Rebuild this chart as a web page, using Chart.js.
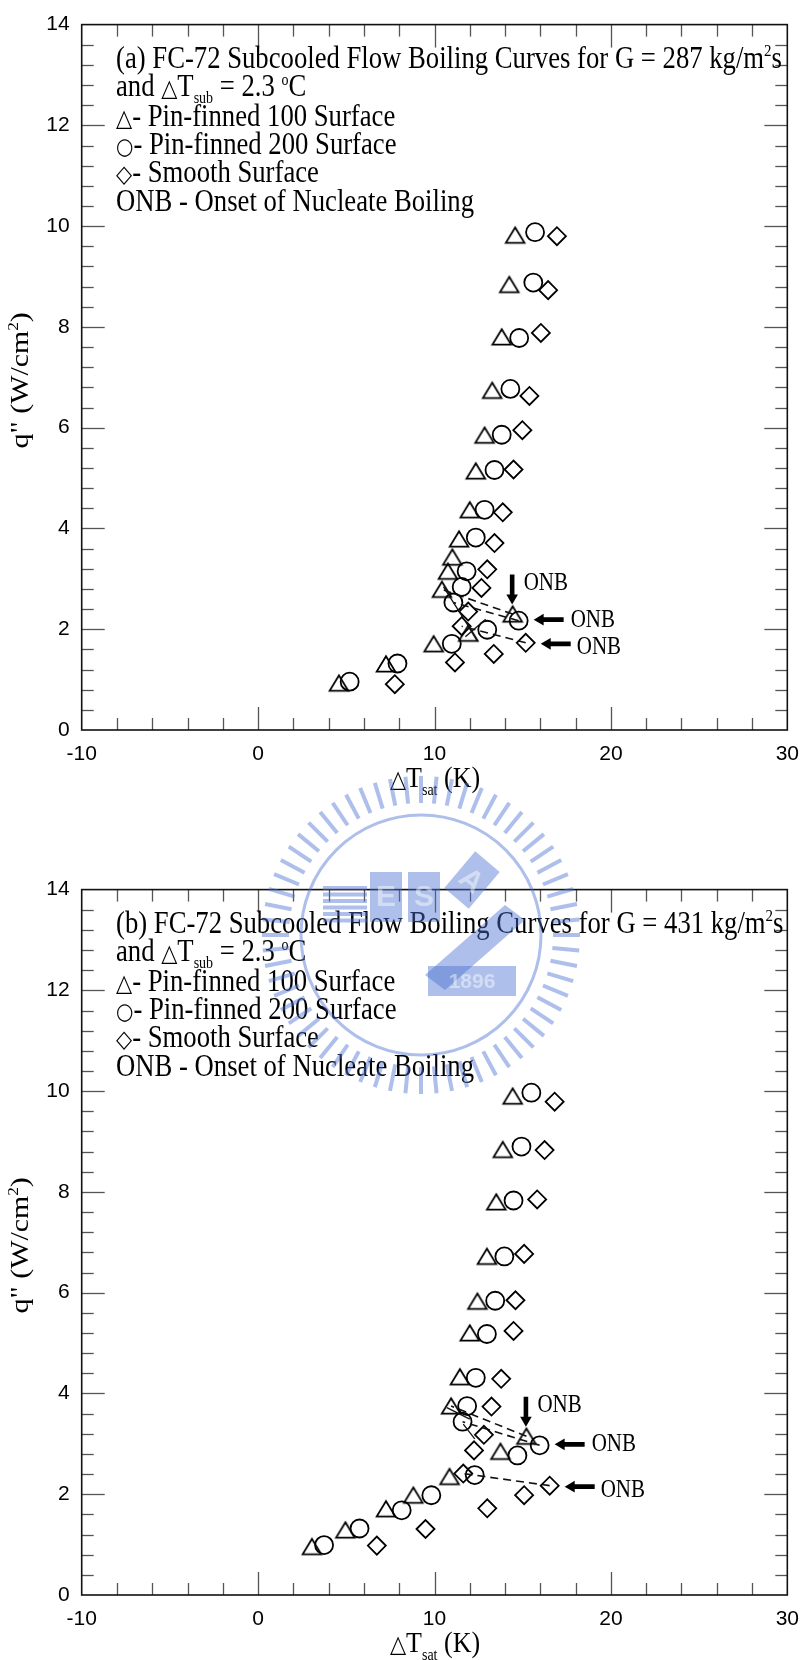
<!DOCTYPE html>
<html><head><meta charset="utf-8">
<script src="https://cdn.jsdelivr.net/npm/chart.js@4.4.0/dist/chart.umd.min.js"></script>
<style>
html,body{margin:0;padding:0;background:#fff;width:811px;height:1660px;overflow:hidden;}
canvas{position:absolute;left:0;}
#c1{top:0;} #c2{top:865px;} #wm{top:0;pointer-events:none;}
</style></head><body>
<canvas id="c1" width="811" height="865"></canvas>
<canvas id="c2" width="811" height="795"></canvas>
<canvas id="wm" width="811" height="1660"></canvas>
<script>
// ---------- tick labels ----------
const X_TICKS = [-10, 0, 10, 20, 30];
const Y_TICKS = [0, 2, 4, 6, 8, 10, 12, 14];

// ---------- (a) G = 287 kg/m2s ----------
const A_PIN100_X = [4.58, 7.25, 9.95, 11.91, 14.43, 10.42, 10.76, 11.01, 11.39, 12.00, 12.34, 12.84, 13.27, 13.81, 14.24, 14.57];
const A_PIN100_Y = [0.93, 1.31, 1.71, 1.92, 2.30, 2.79, 3.15, 3.43, 3.79, 4.37, 5.14, 5.85, 6.74, 7.80, 8.84, 9.82];
const A_PIN200_X = [5.19, 7.90, 10.98, 12.99, 14.77, 11.07, 11.54, 11.82, 12.34, 12.84, 13.40, 13.81, 14.30, 14.80, 15.60, 15.70];
const A_PIN200_Y = [0.96, 1.32, 1.71, 1.99, 2.17, 2.53, 2.84, 3.15, 3.82, 4.37, 5.16, 5.86, 6.77, 7.78, 8.88, 9.88];
const A_SMOOTH_X = [7.75, 11.16, 13.36, 15.17, 11.54, 11.91, 12.66, 12.99, 13.40, 13.87, 14.48, 14.98, 15.38, 16.03, 16.44, 16.94];
const A_SMOOTH_Y = [0.91, 1.34, 1.51, 1.73, 2.06, 2.35, 2.82, 3.19, 3.71, 4.32, 5.17, 5.95, 6.63, 7.88, 8.73, 9.80];
const A_ONB = [4, 4, 3];            // index of ONB point in pin100, pin200, smooth
const A_STROKES = [[10.51, 2.84, 12.47, 1.76], [11.75, 1.85, 12.90, 2.20]];

// ---------- (b) G = 431 kg/m2s ----------
const B_PIN100_X = [3.05, 4.95, 7.25, 8.80, 10.85, 13.74, 15.21, 10.94, 11.44, 12.00, 12.43, 12.97, 13.50, 13.87, 14.43];
const B_PIN100_Y = [0.96, 1.29, 1.71, 1.98, 2.35, 2.85, 3.15, 3.75, 4.33, 5.20, 5.83, 6.72, 7.80, 8.84, 9.90];
const B_PIN200_X = [3.74, 5.75, 8.14, 9.82, 12.28, 14.70, 15.96, 11.59, 11.85, 12.34, 12.97, 13.44, 13.96, 14.48, 14.93, 15.49];
const B_PIN200_Y = [0.99, 1.32, 1.68, 1.98, 2.38, 2.77, 2.97, 3.44, 3.75, 4.31, 5.18, 5.84, 6.72, 7.83, 8.90, 9.97];
const B_SMOOTH_X = [6.73, 9.49, 12.99, 15.08, 16.53, 11.63, 12.24, 12.80, 13.23, 13.78, 14.48, 14.59, 15.08, 15.82, 16.24, 16.81];
const B_SMOOTH_Y = [0.98, 1.31, 1.72, 1.98, 2.17, 2.41, 2.87, 3.18, 3.74, 4.29, 5.24, 5.85, 6.77, 7.85, 8.83, 9.79];
const B_ONB = [6, 6, 4];
const B_STROKES = [[10.70, 3.72, 12.00, 3.49], [11.63, 3.39, 12.28, 3.10]];

const SANS = "'Liberation Sans', Arial, sans-serif";
const SERIF = "'Liberation Serif', 'Times New Roman', serif";
const SYM = "'DejaVu Sans', sans-serif";

function triangleImage() {
  const c = document.createElement('canvas');
  c.width = 24; c.height = 22;
  const g = c.getContext('2d');
  g.lineWidth = 1.8; g.strokeStyle = '#000'; g.lineJoin = 'miter';
  g.beginPath(); g.moveTo(12, 3.2); g.lineTo(21.3, 18.6); g.lineTo(2.7, 18.6); g.closePath(); g.stroke();
  return c;
}
const TRI = triangleImage();

function pts(xs, ys) { return xs.map((x, i) => ({x: x, y: ys[i]})); }

function drawRuns(ctx, x, y, runs, sx, sy, rot, center) {
  ctx.save();
  ctx.translate(x, y);
  if (rot) ctx.rotate(rot);
  ctx.scale(sx, sy);
  ctx.textBaseline = 'alphabetic';
  ctx.fillStyle = '#000';
  let w = 0;
  for (const r of runs) { ctx.font = r.f; w += ctx.measureText(r.t).width; }
  let cx = center ? -w / 2 : 0;
  for (const r of runs) { ctx.font = r.f; ctx.fillText(r.t, cx, r.dy || 0); cx += ctx.measureText(r.t).width; }
  ctx.restore();
}

function arrow(ctx, tx, ty, dx, dy, len) {
  const shaft = 2.3, headL = 10, headW = 5.8;
  const px = -dy, py = dx;
  const bx = tx - dx * headL, by = ty - dy * headL;
  const ex = tx - dx * len, ey = ty - dy * len;
  ctx.beginPath();
  ctx.moveTo(tx, ty);
  ctx.lineTo(bx + px * headW, by + py * headW);
  ctx.lineTo(bx + px * shaft, by + py * shaft);
  ctx.lineTo(ex + px * shaft, ey + py * shaft);
  ctx.lineTo(ex - px * shaft, ey - py * shaft);
  ctx.lineTo(bx - px * shaft, by - py * shaft);
  ctx.lineTo(bx - px * headW, by - py * headW);
  ctx.closePath();
  ctx.fill();
}

function framePlugin(cfg) {
  return {
    id: 'frame',
    afterDraw(chart) {
      const ctx = chart.ctx, a = chart.chartArea, xs = chart.scales.x, ys = chart.scales.y;
      ctx.save();
      ctx.strokeStyle = '#555'; ctx.lineWidth = 1.3;
      const seg = (x1, y1, x2, y2) => { ctx.beginPath(); ctx.moveTo(x1, y1); ctx.lineTo(x2, y2); ctx.stroke(); };
      for (let k = -4; k <= 14; k++) {
        const v = k * 2, p = Math.round(xs.getPixelForValue(v)) + 0.5, L = (v % 10 === 0) ? 23 : 12;
        seg(p, a.bottom, p, a.bottom - L); seg(p, a.top, p, a.top + L);
      }
      for (let k = 1; k <= 34; k++) {
        const v = k * 0.4, p = Math.round(ys.getPixelForValue(v)) + 0.5, L = (k % 5 === 0) ? 23 : 12;
        seg(a.left, p, a.left + L, p); seg(a.right, p, a.right - L, p);
      }
      ctx.strokeStyle = '#111'; ctx.lineWidth = 1.6;
      ctx.strokeRect(a.left, a.top, a.right - a.left, a.bottom - a.top);

      const F = (s) => s + 'px ' + SERIF, S = (s) => s + 'px ' + SYM;
      const tx = 116, sy = 1.15, fs = 26.7;
      const lines = [
        [{t: cfg.tag + ' FC-72 Subcooled Flow Boiling Curves for G = ' + cfg.G + ' kg/m', f: F(fs)}, {t: '2', f: F(15), dy: -10}, {t: 's', f: F(fs)}],
        [{t: 'and ', f: F(fs)}, {t: '\u25B3', f: S(21)}, {t: 'T', f: F(fs)}, {t: 'sub', f: F(14), dy: 6}, {t: ' = 2.3 ', f: F(fs)}, {t: 'o', f: F(14), dy: -10}, {t: 'C', f: F(fs)}],
        [{t: '\u25B3', f: S(21)}, {t: '- Pin-finned 100 Surface', f: F(fs)}],
        [{t: '\u25CB', f: S(20)}, {t: '- Pin-finned 200 Surface', f: F(fs)}],
        [{t: '\u25C7', f: S(21)}, {t: '- Smooth Surface', f: F(fs)}],
        [{t: 'ONB - Onset of Nucleate Boiling', f: F(fs)}]
      ];
      const centers = [43.2, 71.8, 101.5, 129, 157.6, 186.2];
      lines.forEach((ln, i) => drawRuns(ctx, tx, a.top + centers[i], ln, 1, sy, 0, false));

      drawRuns(ctx, 435, a.bottom + 57,
        [{t: '\u25B3', f: S(21)}, {t: 'T', f: F(26)}, {t: 'sat', f: F(14), dy: 7}, {t: ' (K)', f: F(26)}], 1, sy, 0, true);
      drawRuns(ctx, 28, (a.top + a.bottom) / 2 + 3,
        [{t: 'q" (W/cm', f: F(26)}, {t: '2', f: F(15), dy: -10}, {t: ')', f: F(26)}], sy, 1, -Math.PI / 2, true);

      ctx.fillStyle = '#000';
      const P = cfg.series.map(s => ({x: xs.getPixelForValue(s.x[s.onb]), y: ys.getPixelForValue(s.y[s.onb])}));
      const onb = (x, y) => drawRuns(ctx, x, y + 7, [{t: 'ONB', f: F(21)}], 1, sy, 0, false);
      arrow(ctx, P[0].x - 0.5, P[0].y - 9.5, 0, 1, 30);
      onb(P[0].x + 11, P[0].y - 31);
      arrow(ctx, P[1].x + 15, P[1].y - 1, -1, 0, 30);
      onb(P[1].x + 52, P[1].y - 1);
      arrow(ctx, P[2].x + 15, P[2].y + 1, -1, 0, 30);
      onb(P[2].x + 51, P[2].y + 4);
      ctx.restore();
    }
  };
}

function buildChart(id, cfg) {
  const ds = [];
  cfg.series.forEach(s => {
    const i = s.onb;
    ds.push({data: [{x: s.x[i], y: s.y[i]}, {x: s.x[i + 1], y: s.y[i + 1]}], showLine: true,
      borderColor: '#111', borderWidth: 1.6, borderDash: [8, 5], pointRadius: 0, fill: false});
  });
  cfg.strokes.forEach(st => {
    ds.push({data: [{x: st[0], y: st[1]}, {x: st[2], y: st[3]}], showLine: true,
      borderColor: '#111', borderWidth: 1.3, pointRadius: 0, fill: false});
  });
  cfg.series.forEach(s => {
    ds.push({data: pts(s.x, s.y), showLine: false, pointStyle: s.style, pointRadius: s.r,
      pointBorderColor: '#000', pointBackgroundColor: 'rgba(0,0,0,0)', pointBorderWidth: 1.8});
  });
  const tickFont = {family: SANS, size: 21};
  return new Chart(document.getElementById(id), {
    type: 'scatter',
    data: {datasets: ds},
    options: {
      responsive: false, animation: false, events: [], devicePixelRatio: 1,
      layout: {padding: {top: 15, right: 14.3, left: 0, bottom: 0}},
      plugins: {legend: {display: false}, tooltip: {enabled: false}},
      scales: {
        x: {type: 'linear', min: -10, max: 30,
          afterBuildTicks: sc => { sc.ticks = X_TICKS.map(v => ({value: v})); },
          ticks: {font: tickFont, color: '#000', padding: 12, maxRotation: 0, autoSkip: false},
          grid: {display: false, drawTicks: false}, border: {display: false},
          afterFit: sc => { sc.height = sc.chart.height - 730; }},
        y: {type: 'linear', min: 0, max: 14,
          afterBuildTicks: sc => { sc.ticks = Y_TICKS.map(v => ({value: v})); },
          ticks: {font: tickFont, color: '#000', padding: 12, autoSkip: false},
          grid: {display: false, drawTicks: false}, border: {display: false},
          afterFit: sc => { sc.width = 81.7; }}
      }
    },
    plugins: [framePlugin(cfg)]
  });
}

function seriesSet(p100x, p100y, p200x, p200y, smx, smy, onb) {
  return [
    {x: p100x, y: p100y, onb: onb[0], style: TRI, r: 10},
    {x: p200x, y: p200y, onb: onb[1], style: 'circle', r: 9},
    {x: smx, y: smy, onb: onb[2], style: 'rectRot', r: 9}
  ];
}

buildChart('c1', {tag: '(a)', G: '287',
  series: seriesSet(A_PIN100_X, A_PIN100_Y, A_PIN200_X, A_PIN200_Y, A_SMOOTH_X, A_SMOOTH_Y, A_ONB),
  strokes: A_STROKES});
buildChart('c2', {tag: '(b)', G: '431',
  series: seriesSet(B_PIN100_X, B_PIN100_Y, B_PIN200_X, B_PIN200_Y, B_SMOOTH_X, B_SMOOTH_Y, B_ONB),
  strokes: B_STROKES});

// ---------- faint emblem watermark ----------
(function () {
  const g = document.getElementById('wm').getContext('2d');
  const cx = 421, cy = 935;
  g.save();
  g.globalAlpha = 0.45;
  const blue = '#4a70d0';
  g.strokeStyle = blue; g.fillStyle = blue;
  g.lineWidth = 4;
  for (let i = 0; i < 64; i++) {
    const t = i / 64 * 2 * Math.PI;
    g.beginPath();
    g.moveTo(cx + Math.cos(t) * 132, cy + Math.sin(t) * 132);
    g.lineTo(cx + Math.cos(t) * 159, cy + Math.sin(t) * 159);
    g.stroke();
  }
  g.lineWidth = 3;
  g.beginPath(); g.arc(cx, cy, 120, 0, 2 * Math.PI); g.stroke();
  for (let i = 0; i < 6; i++) g.fillRect(323, 886 + i * 6.5, 44, 4);
  g.fillRect(370, 872, 32, 50);
  g.fillRect(408, 872, 32, 50);
  g.save(); g.translate(472, 880); g.rotate(0.7); g.fillRect(-16, -24, 32, 48);
  g.fillStyle = '#fff'; g.font = 'bold 30px ' + SANS; g.textAlign = 'center'; g.textBaseline = 'middle';
  g.fillText('A', 0, 2); g.restore();
  g.beginPath(); g.moveTo(505, 905); g.lineTo(525, 920); g.lineTo(445, 990); g.lineTo(425, 975); g.closePath(); g.fill();
  g.fillRect(428, 966, 88, 30);
  g.fillStyle = '#fff'; g.font = 'bold 30px ' + SANS; g.textAlign = 'center'; g.textBaseline = 'middle';
  g.fillText('E', 386, 898); g.fillText('S', 424, 898);
  g.font = 'bold 21px ' + SANS; g.fillText('1896', 472, 982);
  g.restore();
})();
</script>
</body></html>
